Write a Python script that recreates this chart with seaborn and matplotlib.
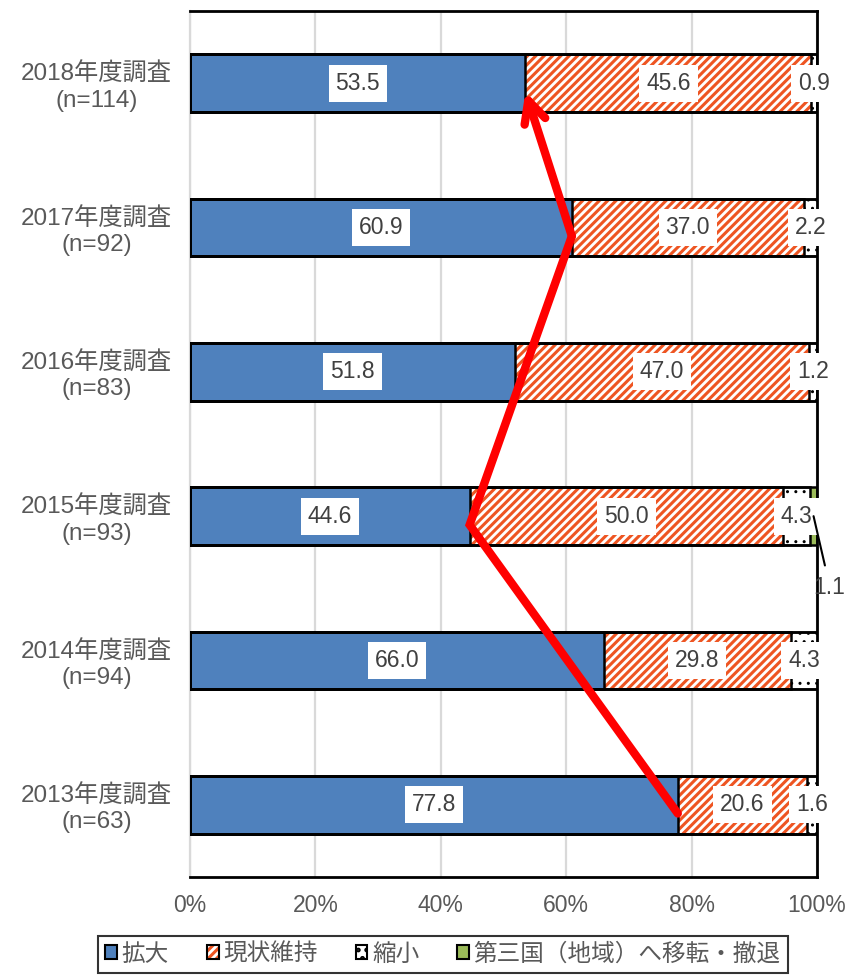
import pandas as pd
import matplotlib.pyplot as plt
from matplotlib.patches import Patch
import seaborn as sns

# survey data (%)
surveys = ['2018年度調査\n(n=114)', '2017年度調査\n(n=92)', '2016年度調査\n(n=83)',
           '2015年度調査\n(n=93)', '2014年度調査\n(n=94)', '2013年度調査\n(n=63)']
expand = [53.5, 60.9, 51.8, 44.6, 66.0, 77.8]
keep = [45.6, 37.0, 47.0, 50.0, 29.8, 20.6]
shrink = [0.9, 2.2, 1.2, 4.3, 4.3, 1.6]
relocate = [0.0, 0.0, 0.0, 1.1, 0.0, 0.0]
series_names = ['拡大', '現状維持', '縮小', '第三国（地域）へ移転・撤退']
x_ticks = [0, 20, 40, 60, 80, 100]
# surveys the red trend arrow runs through (oldest -> newest)
arrow_surveys = ['2013年度調査\n(n=63)', '2015年度調査\n(n=93)',
                 '2017年度調査\n(n=92)', '2018年度調査\n(n=114)']

sns.set_theme(style='white')
plt.rcParams['font.family'] = ['Liberation Sans', 'Noto Sans CJK JP', 'DejaVu Sans']

text_col = '#595959'
# face, hatch, hatch colour, hatch linewidth
styles = {
    '拡大': ('#4F81BD', None, '#4F81BD', 1.0),
    '現状維持': ('white', '////', '#EE5522', 2.2),
    '縮小': ('white', '..', 'black', 1.0),
    '第三国（地域）へ移転・撤退': ('#9BBB59', None, '#9BBB59', 1.0),
}

df = pd.DataFrame({'survey': surveys, '拡大': expand, '現状維持': keep,
                   '縮小': shrink, '第三国（地域）へ移転・撤退': relocate})
cum = df[series_names].cumsum(axis=1)
cum['survey'] = surveys

fig = plt.figure(figsize=(8.5, 9.75), dpi=100)
ax = fig.add_axes([190 / 850, 1 - 877 / 975, 627 / 850, 866 / 975])

# filled segments: cumulative bars, widest first
for name in reversed(series_names):
    face, hatch, hcol, hlw = styles[name]
    plt.rcParams['hatch.linewidth'] = hlw
    n0 = len(ax.patches)
    sns.barplot(data=cum, x=name, y='survey', orient='h', color=face, width=0.4,
                saturation=1, errorbar=None, ax=ax)
    for p in ax.patches[n0:]:
        p.set_facecolor(face)
        p.set_edgecolor(hcol)
        p.set_linewidth(0)
        if hatch:
            p.set_hatch(hatch)
        p.set_zorder(2)
plt.rcParams['hatch.linewidth'] = 2.2

# black outlines on top
for name in series_names:
    n0 = len(ax.patches)
    sns.barplot(data=cum, x=name, y='survey', orient='h', fill=False, color='black',
                width=0.4, linewidth=1.8, errorbar=None, ax=ax)
    for p in ax.patches[n0:]:
        p.set_zorder(3)

# value labels
for name in series_names[:3]:
    for i, (v, c) in enumerate(zip(df[name], cum[name])):
        ax.text(c - v / 2, i, f'{v:.1f}', ha='center', va='center', fontsize=16.5,
                color='#404040', zorder=5,
                bbox=dict(boxstyle='square,pad=0.3', fc='white', ec='none'))

# the small relocation share gets a leader line
for i, (v, c) in enumerate(zip(df['第三国（地域）へ移転・撤退'], cum['第三国（地域）へ移転・撤退'])):
    if v > 0:
        ax.annotate(f'{v:.1f}', xy=(c - v / 2, i), xytext=(11, -51),
                    textcoords='offset points', ha='center', va='center',
                    fontsize=16.5, color='#404040', zorder=7, annotation_clip=False,
                    arrowprops=dict(arrowstyle='-', color='black', lw=1.5,
                                    shrinkA=5, shrinkB=0, relpos=(0.45, 1)))

# red trend arrow through the 拡大 values
pos = {s: i for i, s in enumerate(surveys)}
ax_x = [df.loc[pos[s], '拡大'] for s in arrow_surveys]
ax_y = [pos[s] + 0.06 for s in arrow_surveys]
ax.plot(ax_x[:-1], ax_y[:-1], color='#FF0000', lw=6, solid_capstyle='round',
        solid_joinstyle='miter', zorder=6)
ax.annotate('', xy=(ax_x[-1], ax_y[-1]), xytext=(ax_x[-2], ax_y[-2]), zorder=6,
            arrowprops=dict(arrowstyle='->,head_length=1.3,head_width=0.65',
                            color='#FF0000', lw=6, shrinkA=0, shrinkB=0))

ax.set_xlim(0, 100)
ax.set_ylim(5.5, -0.5)
ax.set_xlabel('')
ax.set_ylabel('')
ax.set_xticks(x_ticks)
ax.set_xticklabels([f'{t}%' for t in x_ticks], fontsize=16.5, color=text_col)
ax.tick_params(axis='x', length=0, pad=12)
ax.tick_params(axis='y', length=0, pad=13)
for lab in ax.get_yticklabels():
    lab.set_fontsize(17.5)
    lab.set_color(text_col)
    lab.set_multialignment('center')
ax.xaxis.grid(True, color='#D9D9D9', lw=1.6)
ax.set_axisbelow(True)
for side in ['top', 'right', 'bottom']:
    ax.spines[side].set_color('black')
    ax.spines[side].set_linewidth(2)
ax.spines['left'].set_color('#D9D9D9')
ax.spines['left'].set_linewidth(1.6)

# legend
handles = []
for name in series_names:
    face, hatch, hcol, hlw = styles[name]
    handles.append((Patch(facecolor=face, edgecolor=hcol, hatch=hatch, lw=0),
                    Patch(fill=False, edgecolor='black', lw=1.5)))
leg = fig.legend(handles, series_names, loc='upper center',
                 bbox_to_anchor=(443 / 850, 1 - 936 / 975),
                 ncol=4, fontsize=17, frameon=True, fancybox=False,
                 handlelength=0.5, handleheight=0.5, handletextpad=0.2,
                 columnspacing=1.6, borderpad=0.3, borderaxespad=0,
                 labelcolor=text_col)
leg.get_frame().set_edgecolor('black')
leg.get_frame().set_linewidth(1.5)

fig.savefig('out.png', dpi=100)
